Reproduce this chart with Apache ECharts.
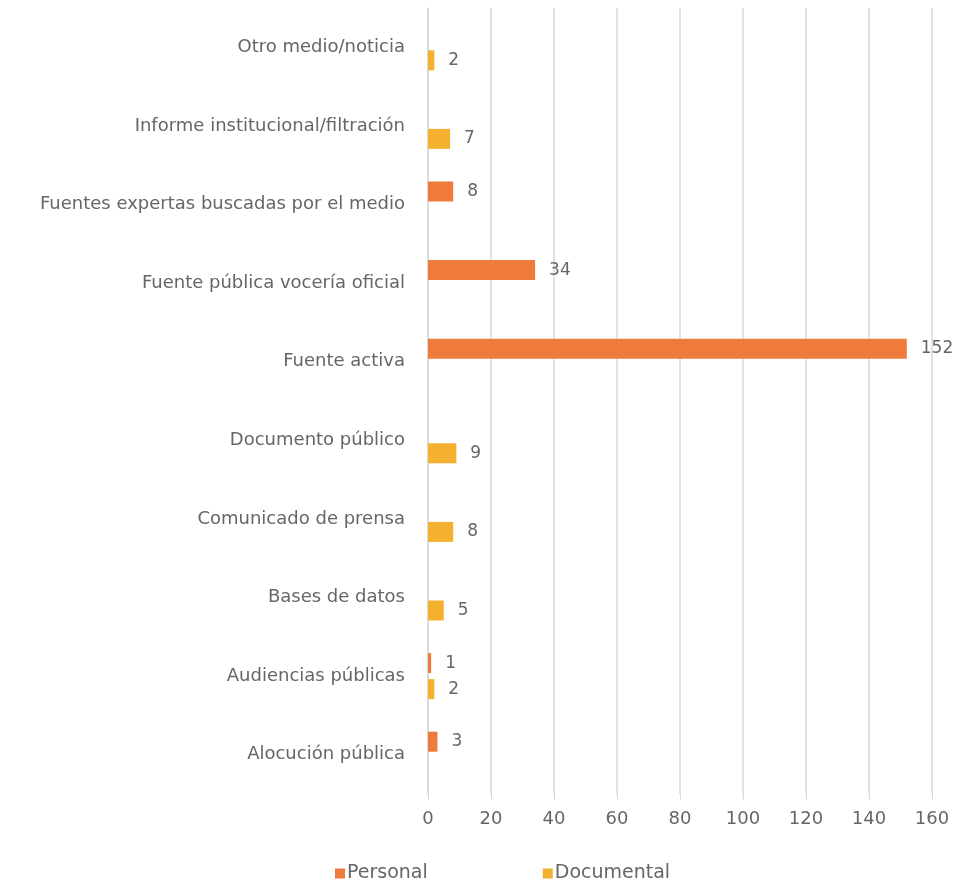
<!DOCTYPE html>
<html><head><meta charset="utf-8">
<script src="https://cdn.jsdelivr.net/npm/echarts@6/dist/echarts.min.js"></script>
<style>html,body{margin:0;padding:0;background:#fff}#c{width:956px;height:883px}</style>
</head><body><div id="c"></div>
<script>
// categories bottom-to-top
const categories = ['Alocución pública','Audiencias públicas','Bases de datos','Comunicado de prensa','Documento público','Fuente activa','Fuente pública vocería oficial','Fuentes expertas buscadas por el medio','Informe institucional/filtración','Otro medio/noticia'];
const personal =   [3, 1, null, null, null, 152, 34, 8, null, null];
const documental = [null, 2, 5, 8, 9, null, null, null, 7, 2];
const xTicks = [0, 20, 40, 60, 80, 100, 120, 140, 160];

const FONT = 'DejaVu Sans';
const TXT = '#666666';
const chart = echarts.init(document.getElementById('c'));
const lbl = {show:true, position:'right', distance:14, color:TXT, fontFamily:FONT, fontSize:17};
chart.setOption({
  animation:false,
  textStyle:{fontFamily:FONT},
  grid:{left:428, right:24, top:8, bottom:89, containLabel:false},
  legend:{data:['Personal','Documental'], left:330, top:859, itemWidth:10, itemHeight:10, itemGap:115,
    icon:'rect', textStyle:{color:TXT, fontFamily:FONT, fontSize:19, padding:[0,0,0,-3]}},
  xAxis:{type:'value', min:xTicks[0], max:xTicks[xTicks.length-1], interval:20,
    axisLine:{show:false}, axisTick:{show:true, length:6, lineStyle:{color:'#d9d9d9'}},
    splitLine:{show:true, lineStyle:{color:'#d9d9d9', width:1.5}},
    axisLabel:{color:TXT, fontFamily:FONT, fontSize:18, margin:16}},
  yAxis:{type:'category', data:categories,
    axisLine:{show:true, lineStyle:{color:'#d9d9d9', width:1.5}}, axisTick:{show:false},
    axisLabel:{color:TXT, fontFamily:FONT, fontSize:18, margin:23}},
  series:[
    {name:'Personal', type:'bar', data:personal, itemStyle:{color:'#EE7A3C'}, barWidth:20, barGap:'30%', label:lbl},
    {name:'Documental', type:'bar', data:documental, itemStyle:{color:'#F4B02F'}, barWidth:20, barGap:'30%', label:lbl}
  ]
});
</script></body></html>
